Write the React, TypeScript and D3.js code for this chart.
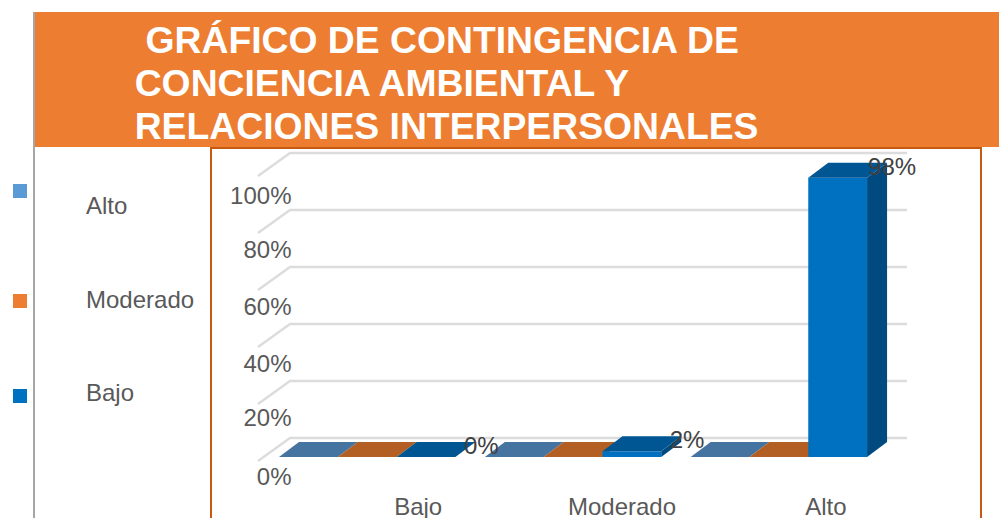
import React from "react";
import * as d3 from "d3";

const titleLines = ["GRÁFICO DE CONTINGENCIA DE", "CONCIENCIA AMBIENTAL Y", "RELACIONES INTERPERSONALES"];
const categories = ["Bajo", "Moderado", "Alto"];
const seriesNames = ["Alto", "Moderado", "Bajo"];
const altoValues = [0, 0, 0];
const moderadoValues = [0, 0, 0];
const bajoValues = [0, 2, 98];
const ticks = [0, 20, 40, 60, 80, 100];
const legendOrder = ["Alto", "Moderado", "Bajo"];

const seriesValues: Record<string, number[]> = { Alto: altoValues, Moderado: moderadoValues, Bajo: bajoValues };
const front: Record<string, string> = { Alto: "#5b9bd5", Moderado: "#ed7d31", Bajo: "#0070c0" };
const top: Record<string, string> = { Alto: "#44749f", Moderado: "#b35e22", Bajo: "#005693" };
const side: Record<string, string> = { Alto: "#3a6a94", Moderado: "#a04f1a", Bajo: "#004a80" };

const DX = 20, DY = -15;
const WALL_DX = 32, WALL_DY = -23;
const FONT = "'Liberation Sans', Arial, sans-serif";
const tickBaseline: Record<number, number> = { 0: 484.5, 20: 425.5, 40: 372, 60: 314.5, 80: 257.5, 100: 203.5 };

export default function App() {
  const y = d3.scaleLinear().domain([0, 100]).range([457, 172]);
  const x0 = d3.scaleBand<string>().domain(categories).range([279, 896.5]);
  const groupW = 176.4;
  const x1 = d3.scaleBand<string>().domain(seriesNames).range([0, groupW]);
  const wallL = 258;
  const wallR = 875;
  const legendPos: Record<string, number> = { Alto: 191, Moderado: 301, Bajo: 396 };
  const legendText: Record<string, number> = { Alto: 214, Moderado: 308, Bajo: 401 };

  return (
    <svg width={999} height={518} style={{ position: "absolute", left: 0, top: 0, display: "block" }} fontFamily={FONT}>
      <rect x={0} y={0} width={999} height={518} fill="#ffffff" />
      <rect x={33} y={12} width={2} height={506} fill="#a6a6a6" />
      <rect x={35} y={12} width={964} height={135} fill="#ed7d31" />
      {titleLines.map((t, i) => (
        <text key={t} x={i === 0 ? 145.5 : 134.7} y={52.5 + i * 43} fontSize={37.3} fontWeight={700} fill="#ffffff">{t}</text>
      ))}
      <path d="M211,518V148H981V518" fill="none" stroke="#c55a11" strokeWidth={2} />

      {legendOrder.map((n) => (
        <g key={n}>
          <rect x={13} y={legendPos[n] - 7} width={14} height={14} fill={front[n]} />
          <text x={86} y={legendText[n]} fontSize={24} fill="#595959">{n}</text>
        </g>
      ))}

      {ticks.map((t) => {
        const yy = y(t);
        return (
          <g key={t}>
            <path
              d={`M${wallL},${yy + 4}L${wallL + WALL_DX},${yy + 4 + WALL_DY}H${wallR + WALL_DX}`}
              fill="none" stroke="#dcdcdc" strokeWidth={2.4}
            />
            <text x={291.5} y={tickBaseline[t]} textAnchor="end" fontSize={24} fill="#595959">{t}%</text>
          </g>
        );
      })}

      {categories.map((c, ci) => (
        <g key={c}>
          {seriesNames.map((s) => {
            const v = seriesValues[s][ci];
            const l = x0(c)! + x1(s)!;
            const r = l + x1.bandwidth();
            const b = y(0);
            const t = y(v);
            return (
              <g key={s}>
                {v > 0 && <rect x={l} y={t} width={r - l} height={b - t} fill={front[s]} />}
                {v > 0 && (
                  <path d={`M${r},${t}L${r + DX},${t + DY}V${b + DY}L${r},${b}Z`} fill={side[s]} />
                )}
                <path d={`M${l},${t}L${l + DX},${t + DY}H${r + DX}L${r},${t}Z`} fill={top[s]} />
              </g>
            );
          })}
        </g>
      ))}

      {categories.map((c, ci) => {
        const v = bajoValues[ci];
        const r = x0(c)! + groupW;
        return (
          <text key={c} x={r + (ci === 2 ? 1 : 8.5)} y={y(v) - 3} fontSize={24} fill="#404040">{v}%</text>
        );
      })}

      {categories.map((c, ci) => (
        <text key={c} x={x0(c)! + groupW / 2 + 51 - ci * 2} y={515} textAnchor="middle" fontSize={24} fill="#595959">{c}</text>
      ))}
    </svg>
  );
}
